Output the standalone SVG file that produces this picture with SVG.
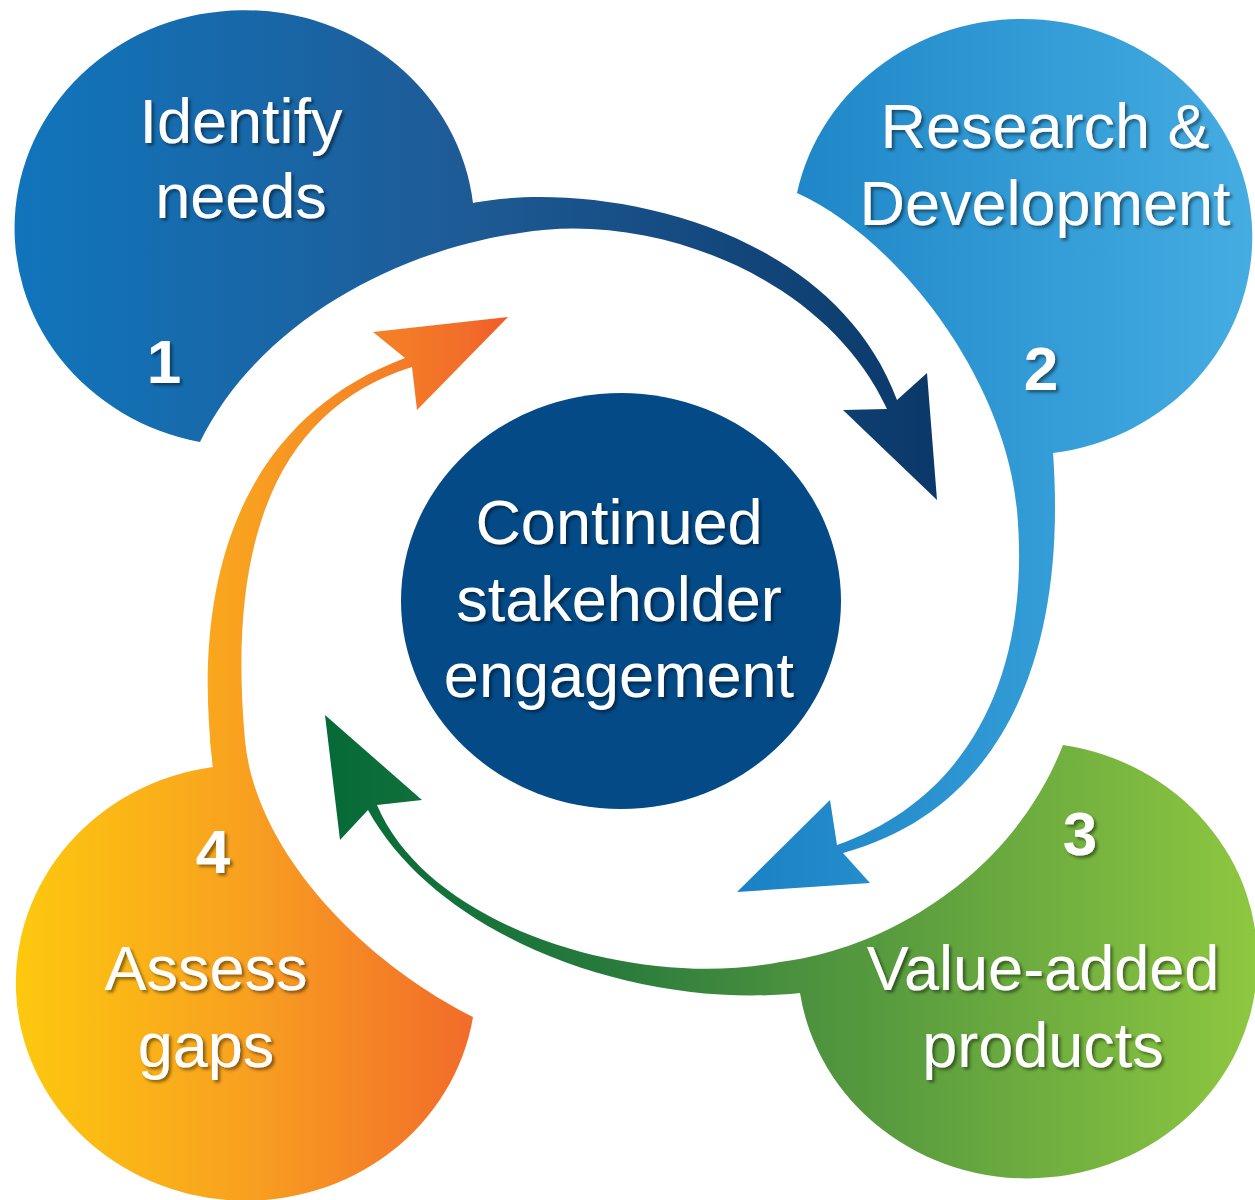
<svg xmlns="http://www.w3.org/2000/svg" width="1255" height="1200" viewBox="0 0 1255 1200">
  <defs>
    <linearGradient id="gBlue" gradientUnits="userSpaceOnUse" x1="15" y1="0" x2="940" y2="0">
      <stop offset="0" stop-color="#1175BC"/>
      <stop offset="0.48" stop-color="#1E5B96"/>
      <stop offset="1" stop-color="#0A3868"/>
    </linearGradient>
    <linearGradient id="gSky" gradientUnits="userSpaceOnUse" x1="737" y1="0" x2="1255" y2="0">
      <stop offset="0" stop-color="#1A82C4"/>
      <stop offset="1" stop-color="#45ADE2"/>
    </linearGradient>
    <linearGradient id="gGreen" gradientUnits="userSpaceOnUse" x1="325" y1="0" x2="1255" y2="0">
      <stop offset="0" stop-color="#056A38"/>
      <stop offset="0.3" stop-color="#277A3C"/>
      <stop offset="0.5" stop-color="#4A903E"/>
      <stop offset="1" stop-color="#8EC740"/>
    </linearGradient>
    <linearGradient id="gOrange" gradientUnits="userSpaceOnUse" x1="18" y1="0" x2="508" y2="0">
      <stop offset="0" stop-color="#FDC80E"/>
      <stop offset="0.47" stop-color="#F8A020"/>
      <stop offset="0.92" stop-color="#F26C2A"/>
      <stop offset="1" stop-color="#F15A29"/>
    </linearGradient>
    <filter id="shadow" x="-10%" y="-20%" width="130%" height="150%">
      <feDropShadow dx="2.5" dy="2.5" stdDeviation="1.5" flood-color="#000" flood-opacity="0.45"/>
    </filter>
  </defs>
  <style>
    .label { font-family: "Liberation Sans", Arial, sans-serif; font-size: 63px; fill: #FFFFFF; text-anchor: middle; filter: url(#shadow); }
    .num { font-family: "Liberation Sans", Arial, sans-serif; font-size: 62px; font-weight: bold; fill: #FFFFFF; text-anchor: middle; filter: url(#shadow); }
  </style>

  <rect width="1255" height="1200" fill="#FFFFFF"/>

  <!-- curved arrows leading from each step to the next -->
  <g id="connectors">
    <path id="arrow-1-2" fill="url(#gBlue)" d="M473,203 C590,180 830,220 897,400 L927,373 L937,500 L843,410 L887,409 C825,275 650,210 520,233 L465,225 Z"/>
    <path id="arrow-2-3" fill="url(#gSky)" d="M1053,453 C1068,660 1000,810 843,853 L870,883 L737,892 L830,800 L837,845 C965,800 1032,680 1017,510 L1030,450 Z"/>
    <path id="arrow-3-4" fill="url(#gGreen)" d="M800,993 C640,1010 440,940 368,810 L340,840 L325,715 L422,800 L377,805 C430,930 640,990 780,962 L805,975 Z"/>
    <path id="arrow-4-1" fill="url(#gOrange)" d="M213,767 C190,580 240,420 405,358 L373,332 L508,317 L417,410 L412,367 C290,405 225,520 245,740 L235,775 Z"/>
  </g>

  <g id="node-1">
    <path fill="url(#gBlue)" d="M200,442 A230,218 0 1 1 473,203 L520,199 L520,233 C400,250 260,320 200,442 Z"/>
    <text class="label" x="241" y="143">Identify</text>
    <text class="label" x="241" y="218">needs</text>
    <text class="num" x="164" y="383">1</text>
  </g>

  <g id="node-2">
    <path fill="url(#gSky)" d="M797,193 A230,218 0 1 1 1053,453 L1054,515 L1017,510 C1005,380 900,240 797,193 Z"/>
    <text class="label" x="1045" y="148">Research &amp;</text>
    <text class="label" x="1045" y="225">Development</text>
    <text class="num" x="1041" y="390">2</text>
  </g>

  <g id="node-3">
    <path fill="url(#gGreen)" d="M1063,745 A230,218 0 1 1 800,993 L780,993 L780,962 C880,950 1010,880 1063,745 Z"/>
    <text class="num" x="1080" y="855">3</text>
    <text class="label" x="1043" y="990">Value-added</text>
    <text class="label" x="1043" y="1067">products</text>
  </g>

  <g id="node-4">
    <path fill="url(#gOrange)" d="M473,1017 A230,218 0 1 1 213,767 L210,740 L245,740 C255,850 360,960 473,1017 Z"/>
    <text class="num" x="213" y="873">4</text>
    <text class="label" x="206" y="990">Assess</text>
    <text class="label" x="206" y="1067">gaps</text>
  </g>

  <g id="node-center">
    <ellipse cx="621" cy="601" rx="220" ry="208" fill="#034A87"/>
    <text class="label" x="619" y="544">Continued</text>
    <text class="label" x="619" y="621">stakeholder</text>
    <text class="label" x="619" y="697">engagement</text>
  </g>
</svg>
